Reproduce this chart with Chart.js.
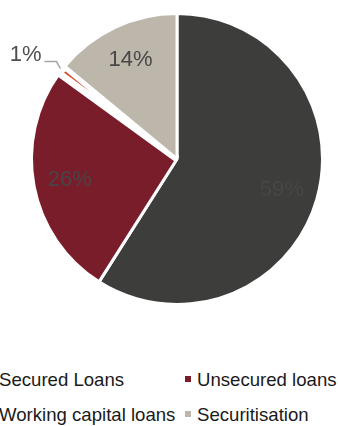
<!DOCTYPE html>
<html>
<head>
<meta charset="utf-8">
<script src="https://cdn.jsdelivr.net/npm/chart.js@4.4.0/dist/chart.umd.min.js"></script>
<style>
  html, body { margin: 0; padding: 0; background: #fff; }
  #wrap { position: relative; width: 338px; height: 426px; overflow: hidden; font-family: "Liberation Sans", Arial, sans-serif; }
  #chartBox { position: absolute; left: 0; top: 0; width: 338px; height: 320px; }
  .leg { position: absolute; font-size: 18.6px; color: #1a1a1a; white-space: nowrap; line-height: 22px; }
  .leg i { display: inline-block; width: 6px; height: 6px; margin-right: 6px; vertical-align: 4px; }
</style>
</head>
<body>
<div id="wrap">
  <div id="chartBox"><canvas id="grafico"></canvas></div>
  <div id="legenda"></div>
</div>
<script>
const categorias = ["Secured Loans", "Unsecured loans", "Working capital loans", "Securitisation"];
const valores = [59, 26, 1, 14];
const cores = ["#3d3d3b", "#7a1d2b", "#d4492a", "#bdb6aa"];
const coresRotulo = ["#474746", "#4a4446", "#555555", "#474747"];

// rótulos de percentagem dentro das fatias, o de 1% fica fora com linha guia
const rotulosPlugin = {
  id: "rotulos",
  afterDatasetsDraw(chart) {
    const ctx = chart.ctx;
    const meta = chart.getDatasetMeta(0);
    ctx.save();
    ctx.font = "22px 'Liberation Sans', Arial, sans-serif";
    ctx.textAlign = "center";
    ctx.textBaseline = "middle";
    meta.data.forEach((arc, i) => {
      const p = arc.getProps(["x", "y", "startAngle", "endAngle", "outerRadius"], true);
      const meio = (p.startAngle + p.endAngle) / 2;
      const texto = valores[i] + "%";
      if (valores[i] < 5) {
        const r1 = p.outerRadius + 2;
        const x1 = p.x + Math.cos(meio) * r1;
        const y1 = p.y + Math.sin(meio) * r1;
        const x2 = x1 - 4;
        const y2 = y1 - 7;
        const x3 = x2 - 12;
        ctx.strokeStyle = "#a6a6a6";
        ctx.lineWidth = 1.5;
        ctx.beginPath();
        ctx.moveTo(x1, y1);
        ctx.lineTo(x2, y2);
        ctx.lineTo(x3, y2);
        ctx.stroke();
        ctx.fillStyle = "#4d4d4d";
        ctx.textAlign = "right";
        ctx.fillText(texto, x3 - 3, y2 - 7);
        ctx.textAlign = "center";
      } else {
        const r = p.outerRadius * 0.75;
        ctx.fillStyle = coresRotulo[i];
        ctx.fillText(texto, p.x + Math.cos(meio) * r, p.y + Math.sin(meio) * r);
      }
    });
    ctx.restore();
  }
};

new Chart(document.getElementById("grafico").getContext("2d"), {
  type: "pie",
  data: {
    labels: categorias,
    datasets: [{
      data: valores,
      backgroundColor: cores,
      borderColor: "#ffffff",
      borderWidth: [3, 3, 7, 3]
    }]
  },
  options: {
    responsive: true,
    maintainAspectRatio: false,
    animation: false,
    layout: { padding: { left: 28, right: 12, top: 10, bottom: 12 } },
    plugins: {
      legend: { display: false },
      tooltip: { enabled: false }
    }
  },
  plugins: [rotulosPlugin]
});

// legenda em duas colunas
const posicoes = [[-13, 369], [185, 369], [-13, 404], [185, 404]];
const legenda = document.getElementById("legenda");
categorias.forEach((nome, i) => {
  const el = document.createElement("div");
  el.className = "leg";
  el.style.left = posicoes[i][0] + "px";
  el.style.top = posicoes[i][1] + "px";
  el.innerHTML = `<i style="background:${i === 0 || i === 2 ? "#fff" : cores[i === 1 ? 1 : 3]}"></i>${nome}`;
  legenda.appendChild(el);
});
</script>
</body>
</html>
